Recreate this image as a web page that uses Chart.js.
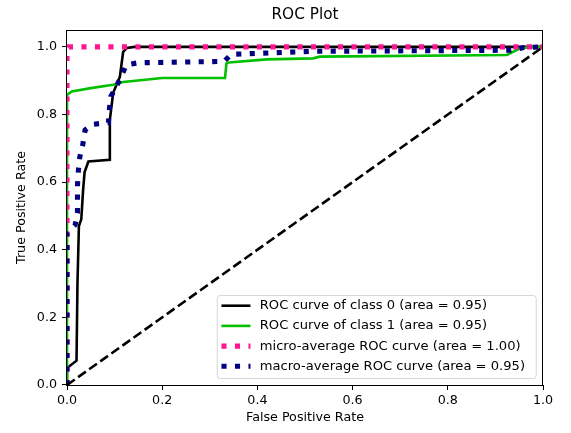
<!DOCTYPE html>
<html><head><meta charset="utf-8">
<script src="https://cdn.jsdelivr.net/npm/chart.js@4.4.1/dist/chart.umd.min.js"></script>
<style>html,body{margin:0;padding:0;background:#fff;} canvas{display:block;}</style>
</head><body>
<canvas id="c" width="571" height="433"></canvas>
<script>
// ---- data ----
const class0Fpr = [0, 0, 0.02, 0.022, 0.025, 0.03, 0.034, 0.037, 0.045, 0.09, 0.09, 0.097, 0.111, 0.118, 0.126, 0.142, 1];
const class0Tpr = [0, 0.05, 0.072, 0.3, 0.47, 0.49, 0.58, 0.63, 0.661, 0.666, 0.784, 0.864, 0.911, 0.985, 0.997, 1.0, 1.0];

const class1Fpr = [0, 0, 0.01, 0.05, 0.097, 0.118, 0.2, 0.332, 0.335, 0.34, 0.42, 0.517, 0.531, 0.924, 0.952, 0.98, 1];
const class1Tpr = [0, 0.858, 0.868, 0.878, 0.888, 0.896, 0.908, 0.908, 0.951, 0.954, 0.963, 0.966, 0.971, 0.976, 0.996, 1.0, 1.0];

const microFpr = [0, 0, 0.004, 1];
const microTpr = [0, 0.985, 1.0, 1.0];

const macroFpr = [0, 0, 0.017, 0.022, 0.022, 0.024, 0.027, 0.033, 0.038, 0.055, 0.087, 0.089, 0.092, 0.104, 0.115, 0.125, 0.15, 0.33, 0.345, 0.52, 0.93, 0.96, 1];
const macroTpr = [0, 0.45, 0.473, 0.509, 0.59, 0.636, 0.675, 0.71, 0.754, 0.771, 0.776, 0.814, 0.853, 0.883, 0.917, 0.947, 0.953, 0.957, 0.978, 0.987, 0.99, 0.998, 1.0];

const chanceFpr = [0, 1];
const chanceTpr = [0, 1];

const seriesLabels = [
  'ROC curve of class 0 (area = 0.95)',
  'ROC curve of class 1 (area = 0.95)',
  'micro-average ROC curve (area = 1.00)',
  'macro-average ROC curve (area = 0.95)'
];
const xTickValues = [0, 0.2, 0.4, 0.6, 0.8, 1.0];
const yTickValues = [0, 0.2, 0.4, 0.6, 0.8, 1.0];
const titleText = 'ROC Plot';
const xTitle = 'False Positive Rate';
const yTitle = 'True Positive Rate';

// ---- chart ----
const FONT = "'DejaVu Sans', sans-serif";
const FS = 12.7;
const LEGEND_FS = 13.1;
function pts(xs, ys) { return xs.map((x, i) => ({ x: x, y: ys[i] })); }

const framePlugin = {
  id: 'frame',
  afterDatasetsDraw(chart) {
    const ca = chart.chartArea, ctx = chart.ctx;
    ctx.save();
    ctx.strokeStyle = '#000';
    ctx.lineWidth = 1;
    ctx.strokeRect(Math.round(ca.left) - 0.5, Math.round(ca.top) + 0.5,
                   Math.round(ca.right) - Math.round(ca.left), Math.round(ca.bottom) - Math.round(ca.top));
    ctx.restore();
  }
};

const legendPlugin = {
  id: 'mplLegend',
  afterDraw(chart) {
    const ctx = chart.ctx, ca = chart.chartArea;
    ctx.save();
    ctx.font = LEGEND_FS + 'px ' + FONT;
    const items = chart.data.datasets.filter(d => !d.noLegend);
    const tw = Math.max(...items.map(d => ctx.measureText(d.label).width));
    const right = ca.right - 7.3;
    const bottom = ca.bottom - 7;
    const rowH = 20.2;
    const h = 83;
    const top = bottom - h;
    const textX = right - 10.7 - tw;
    const left = textX - 43;
    ctx.beginPath();
    ctx.roundRect(left + 0.5, top + 0.5, right - left, h, 3);
    ctx.fillStyle = 'rgba(255,255,255,0.8)';
    ctx.fill();
    ctx.strokeStyle = '#d6d6d6';
    ctx.lineWidth = 1;
    ctx.stroke();
    items.forEach((d, i) => {
      const y = top + 10.7 + i * rowH;
      ctx.strokeStyle = d.borderColor;
      ctx.lineWidth = d.borderWidth;
      ctx.setLineDash(d.borderDash || []);
      ctx.beginPath();
      ctx.moveTo(textX - 38.3, y);
      ctx.lineTo(textX - 9.3, y);
      ctx.stroke();
      ctx.setLineDash([]);
      ctx.fillStyle = '#000';
      ctx.textBaseline = 'middle';
      ctx.textAlign = 'left';
      ctx.fillText(d.label, textX, y);
    });
    ctx.restore();
  }
};

const common = { showLine: true, pointRadius: 0, pointHoverRadius: 0, tension: 0, fill: false, clip: 0 };

new Chart(document.getElementById('c'), {
  type: 'scatter',
  data: {
    datasets: [
      Object.assign({ label: seriesLabels[0], data: pts(class0Fpr, class0Tpr), borderColor: '#000000', borderWidth: 2.6, order: 5 }, common),
      Object.assign({ label: seriesLabels[1], data: pts(class1Fpr, class1Tpr), borderColor: '#00c000', borderWidth: 2.6, order: 4 }, common),
      Object.assign({ label: seriesLabels[2], data: pts(microFpr, microTpr), borderColor: '#ff1493', borderWidth: 5.1, borderDash: [5.1, 8.4], order: 3 }, common),
      Object.assign({ label: seriesLabels[3], data: pts(macroFpr, macroTpr), borderColor: '#000080', borderWidth: 5.1, borderDash: [5.1, 8.4], order: 2 }, common),
      Object.assign({ label: 'chance', noLegend: true, data: pts(chanceFpr, chanceTpr), borderColor: '#000000', borderWidth: 2.6, borderDash: [9.5, 4.1], order: 1 }, common)
    ]
  },
  options: {
    responsive: false,
    animation: false,
    devicePixelRatio: 1,
    layout: { padding: { left: 0, right: 28, top: 0, bottom: 0 } },
    plugins: {
      legend: { display: false },
      tooltip: { enabled: false },
      title: {
        display: true, text: titleText, fullSize: false, color: '#000',
        font: { family: FONT, size: 15.3, weight: 'normal', lineHeight: 1.2 },
        padding: { top: 6, bottom: 5.6 }
      }
    },
    scales: {
      x: {
        type: 'linear', min: 0, max: 1,
        afterFit(s) { s.height = 48; },
        afterBuildTicks(s) { s.ticks = xTickValues.map(v => ({ value: v })); },
        border: { display: false },
        grid: { drawOnChartArea: false, drawTicks: true, tickLength: 5, tickColor: '#000', tickWidth: 1 },
        ticks: { color: '#000', padding: 3, font: { family: FONT, size: FS }, maxRotation: 0, autoSkip: false,
                 callback: v => Number(v).toFixed(1) },
        title: { display: true, text: xTitle, color: '#000', font: { family: FONT, size: FS, lineHeight: 1.2 }, padding: { top: 0, bottom: 7.5 } }
      },
      y: {
        type: 'linear', min: 0, max: 1.05,
        afterFit(s) { s.width = 67; },
        afterBuildTicks(s) { s.ticks = yTickValues.map(v => ({ value: v })); },
        border: { display: false },
        grid: { drawOnChartArea: false, drawTicks: true, tickLength: 5, tickColor: '#000', tickWidth: 1 },
        ticks: { color: '#000', padding: 5, font: { family: FONT, size: FS }, autoSkip: false,
                 callback: v => Number(v).toFixed(1) },
        title: { display: true, text: yTitle, color: '#000', font: { family: FONT, size: FS, lineHeight: 1.2 }, padding: { top: 14.5, bottom: 0 } }
      }
    }
  },
  plugins: [framePlugin, legendPlugin]
});
</script>
</body></html>
